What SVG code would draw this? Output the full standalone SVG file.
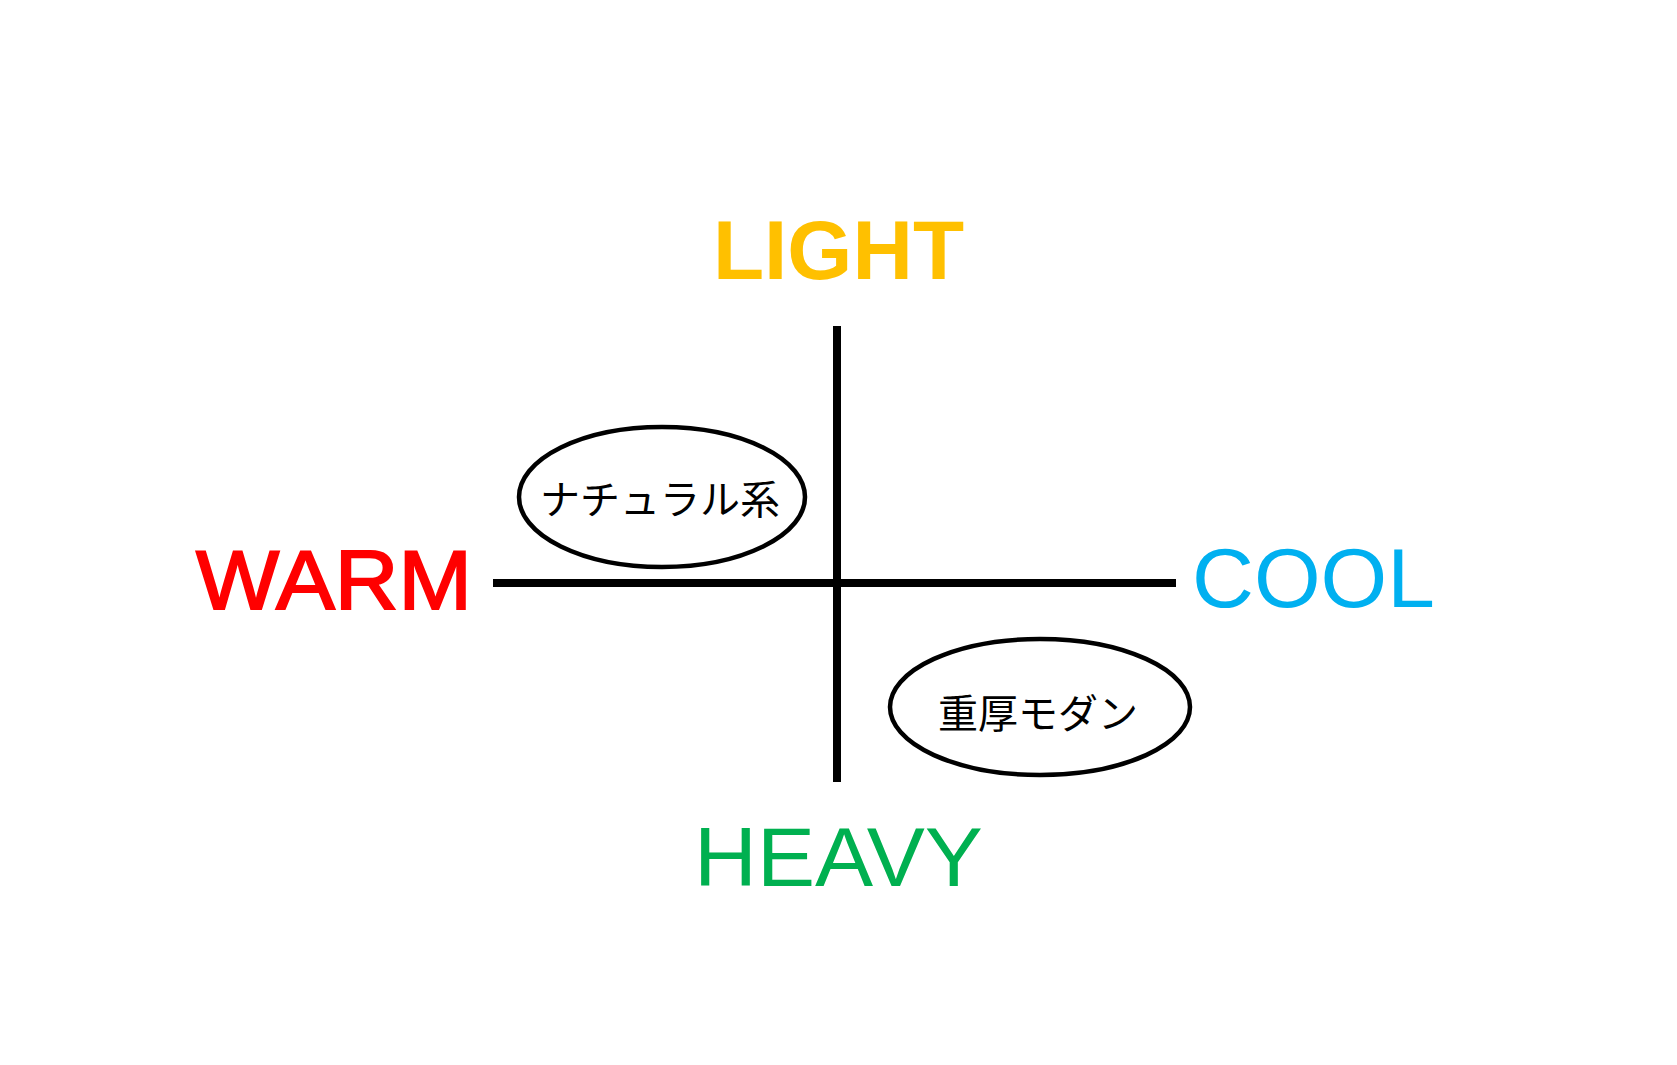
<svg xmlns="http://www.w3.org/2000/svg" width="1677" height="1065" viewBox="0 0 1677 1065">
<style>
.axis{stroke:#000;stroke-width:8;fill:none}
.node ellipse{fill:#fff;stroke:#000;stroke-width:4.5}
.lbl{font-family:"Liberation Sans",Arial,sans-serif;font-size:84px}
.jp{font-family:"Noto Sans CJK JP","Noto Sans",sans-serif;font-size:40px;fill:#000;text-anchor:middle;dominant-baseline:central}
</style>
<rect width="1677" height="1065" fill="#fff"/>
<g id="connectors">
<line class="axis" x1="837" y1="326" x2="837" y2="782"/>
<line class="axis" x1="493" y1="583" x2="1176" y2="583"/>
</g>
<g id="light"><text class="lbl" x="713" y="279" fill="#FFC000" font-weight="bold" textLength="251" lengthAdjust="spacingAndGlyphs">LIGHT</text></g>
<g id="warm"><text class="lbl" x="196" y="609" fill="#FF0000" stroke="#FF0000" stroke-width="2" textLength="276" lengthAdjust="spacingAndGlyphs">WARM</text></g>
<g id="cool"><text class="lbl" x="1192" y="607" fill="#00B0F0" textLength="243" lengthAdjust="spacingAndGlyphs">COOL</text></g>
<g id="heavy"><text class="lbl" x="694" y="886" fill="#00B050" textLength="289" lengthAdjust="spacingAndGlyphs">HEAVY</text></g>
<g id="natural" class="node">
<ellipse cx="662" cy="497" rx="143" ry="70"/>
<text class="jp" x="660" y="497">ナチュラル系</text>
</g>
<g id="modern" class="node">
<ellipse cx="1040" cy="707" rx="150" ry="68"/>
<text class="jp" x="1038" y="711">重厚モダン</text>
</g>
</svg>
